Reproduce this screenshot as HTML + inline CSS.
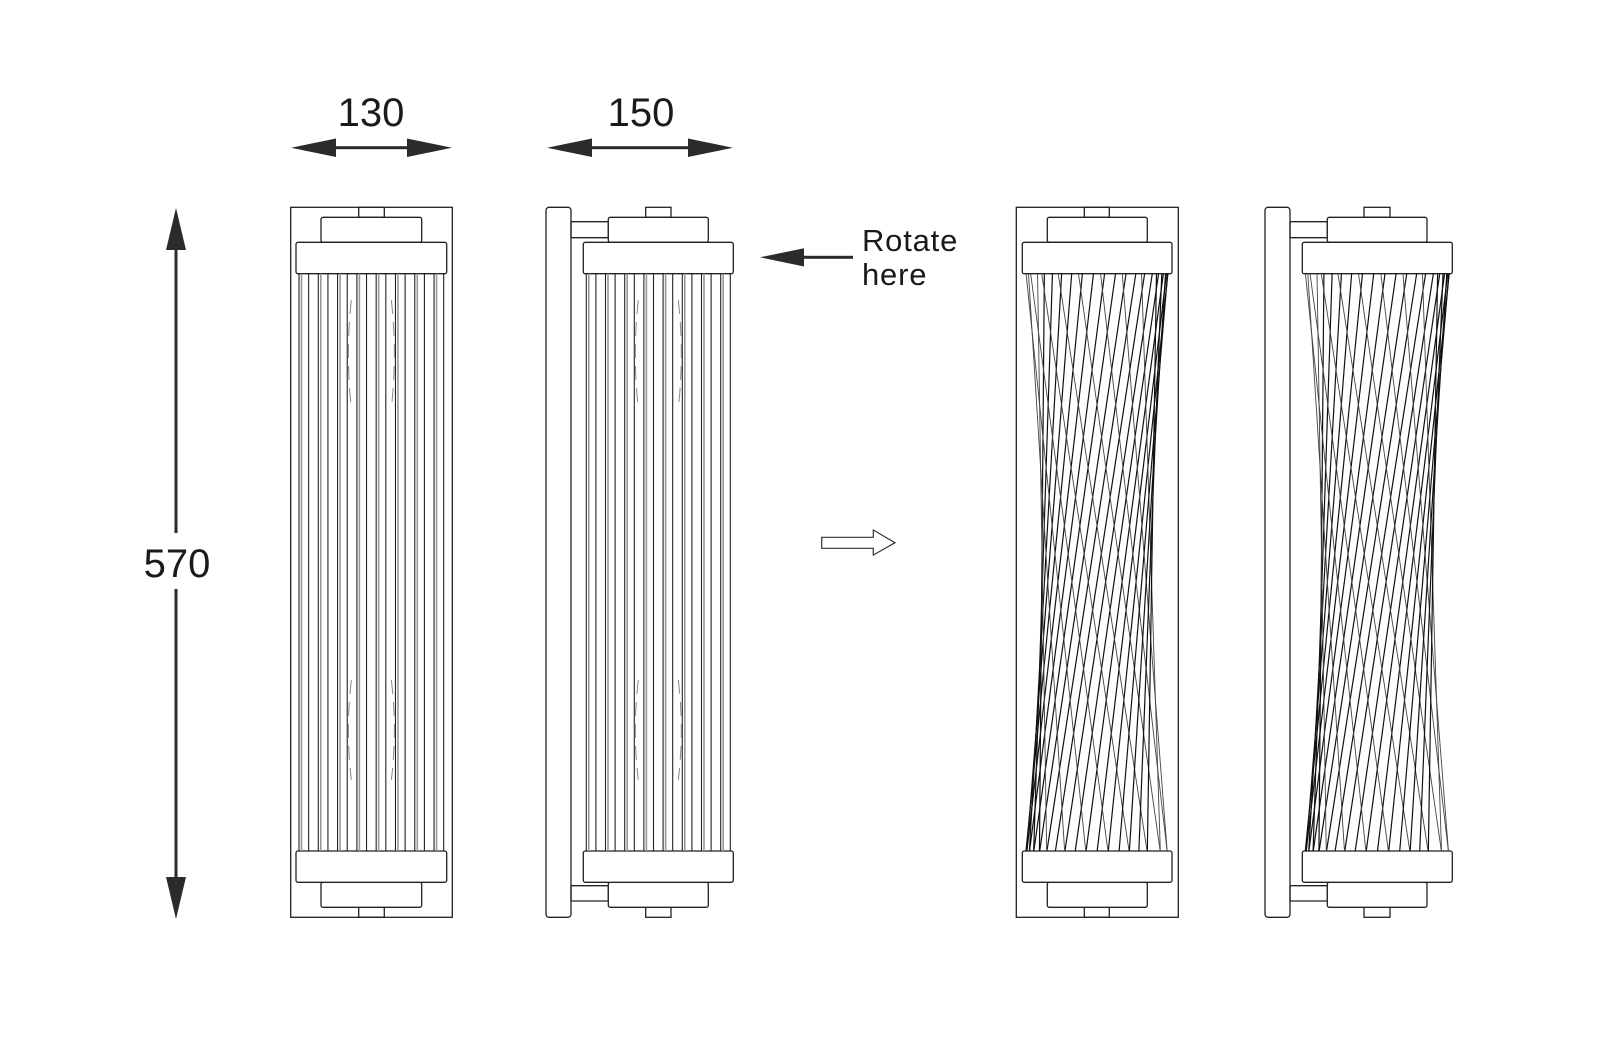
<!DOCTYPE html>
<html><head><meta charset="utf-8"><style>
html,body{margin:0;padding:0;background:#fff;}
svg{display:block;}
text{font-family:"Liberation Sans",sans-serif;fill:#1a1a1a;}
</style></head><body>
<svg id="s" width="1599" height="1044" viewBox="0 0 1599 1044" xmlns="http://www.w3.org/2000/svg">
<g fill="#2b2b2b" stroke="none">
  <rect x="333" y="146.2" width="76" height="3"/>
  <polygon points="291,147.7 336,138.5 336,157"/>
  <polygon points="452,147.7 407,138.5 407,157"/>
  <rect x="589" y="146.2" width="101" height="3"/>
  <polygon points="547,147.7 592,138.5 592,157"/>
  <polygon points="733,147.7 688,138.5 688,157"/>
  <rect x="174.5" y="245" width="3" height="288"/>
  <rect x="174.5" y="589" width="3" height="292"/>
  <polygon points="176,208 166,250 186,250"/>
  <polygon points="176,919 166,877 186,877"/>
  <rect x="800" y="255.8" width="53" height="3"/>
  <polygon points="760,257.3 804,248.3 804,266.5"/>
</g>
<text x="371" y="126" font-size="40" text-anchor="middle">130</text>
<text x="641" y="126" font-size="40" text-anchor="middle">150</text>
<text x="177" y="577" font-size="40" text-anchor="middle">570</text>
<text x="862" y="251" font-size="31" letter-spacing="0.8">Rotate</text>
<text x="862" y="285" font-size="31" letter-spacing="0.8">here</text>
<polygon points="821.7,537.3 873.3,537.3 873.3,530 895,542.7 873.3,555 873.3,548.3 821.7,548.3" fill="none" stroke="#333" stroke-width="1.2"/>
<g id="draw" fill="none" stroke="#222" stroke-width="1.3"></g>
</svg>
<script>
var g=document.getElementById('draw');var NS='http://www.w3.org/2000/svg';
function el(t,a){var e=document.createElementNS(NS,t);for(var k in a)e.setAttribute(k,a[k]);g.appendChild(e);return e;}
function R(x,y,w,h,r,extra){var a={x:x,y:y,width:w,height:h,rx:r||0};for(var k in extra)a[k]=extra[k];return el('rect',a);}
function L(x1,y1,x2,y2,c,w){return el('line',{x1:x1,y1:y1,x2:x2,y2:y2,stroke:c||'#222','stroke-width':w||1.1});}
function fixture(rx0,rx1,capX0,capX1,knobX0,knobX1){
  R(knobX0,207.3,knobX1-knobX0,10,0);
  R(knobX0,907.3,knobX1-knobX0,10,0);
  R(capX0,217.3,capX1-capX0,25,2,{fill:'#fff'});
  R(capX0,882.3,capX1-capX0,25,2,{fill:'#fff'});
  R(rx0,242.3,rx1-rx0,31.4,2,{fill:'#fff'});
  R(rx0,851,rx1-rx0,31.3,2,{fill:'#fff'});
}
function straightRods(x0,x1){
  var n=16,w=(x1-x0-6)/(n-1);
  for(var i=0;i<n;i++){var x=x0+3+i*w;
    L(x,273.7,x,851,'#222',1.1);
    if(i%2==0)L(x+2.5,273.7,x+2.5,851,'#999',1.6);
  }
  var cx=(x0+x1)/2;
  [[cx-20,300,408],[cx+20,300,408],[cx-20,680,780],[cx+20,680,780]].forEach(function(b){
    el('path',{d:'M'+b[0]+' '+b[1]+' Q'+(b[0]+(b[0]<cx?-6:6))+' '+((b[1]+b[2])/2)+' '+b[0]+' '+b[2],stroke:'#888','stroke-width':1,'stroke-dasharray':'14 8'});
  });
}
function twisted(cx,Rr){
  var n=40,phi=78*Math.PI/180,yt=273.7,yb=851;
  for(var i=0;i<n;i++){var th=i*2*Math.PI/n+0.05;var mid=th+phi/2;
    var xt=cx+Rr*Math.cos(th),xb=cx+Rr*Math.cos(th+phi);
    if(Math.sin(mid)>0)L(xt,yt,xb,yb,'#111',1.2);else if(i%2==0)L(xt,yt,xb,yb,'#444',0.9);
  }
}
R(290.7,207.3,161.6,710,0,{fill:'#fff'});
fixture(296,446.7,321,421.7,358.7,384.3);
straightRods(296,446.7);
R(546,207.3,25,710,3,{fill:'#fff'});
R(571,221.7,37.3,16,1);R(571,885.7,37.3,15.3,1);
fixture(583.3,733.3,608.3,708.3,645.7,671);
straightRods(583.3,733.3);
R(1016.3,207.3,162,710,0,{fill:'#fff'});
fixture(1022.3,1172,1047.3,1147.3,1084.3,1109.3);
twisted(1097,71);
R(1265,207.3,25,710,3,{fill:'#fff'});
R(1290,221.7,37.3,16,1);R(1290,885.7,37.3,15.3,1);
fixture(1302.3,1452.3,1327.3,1427,1364,1390);
twisted(1377.3,72);
</script>
</body></html>
